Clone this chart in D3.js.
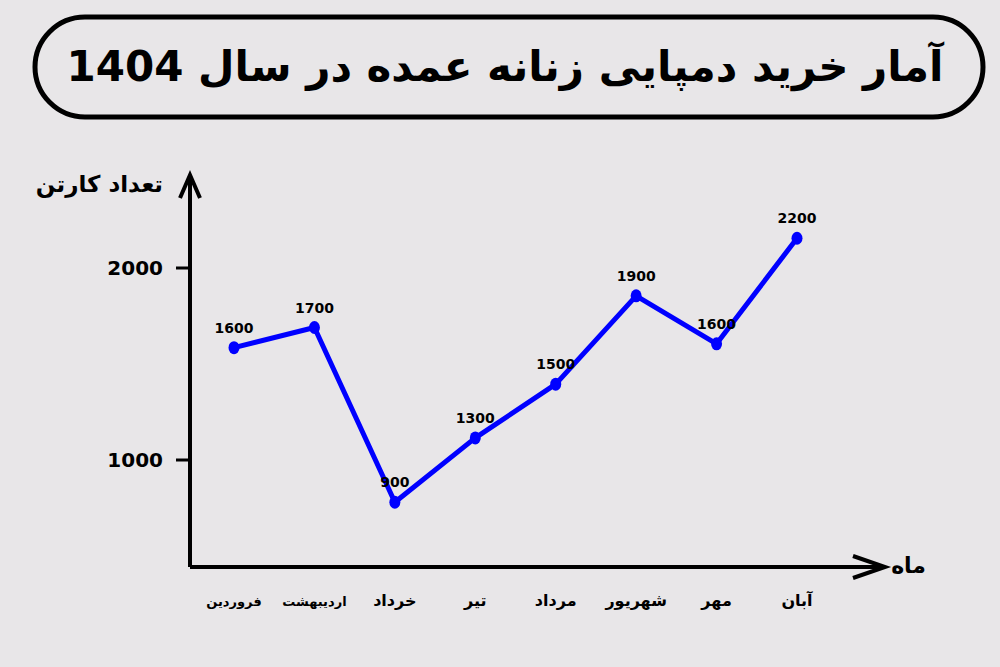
<!DOCTYPE html><html><head><meta charset="utf-8">
<script src="https://cdn.jsdelivr.net/npm/d3@7"></script>
<style>body{margin:0;background:#e8e6e8}text{font-family:"DejaVu Sans",sans-serif;font-weight:bold}</style></head><body>
<svg id="c" width="1000" height="667"></svg>
<script>
const months=["فروردین","اردیبهشت","خرداد","تیر","مرداد","شهریور","مهر","آبان"];
const labels=[1600,1700,900,1300,1500,1900,1600,2200];
const plotted=[1585,1690,780,1115,1395,1855,1605,2155];
const yTicks=[1000,2000];
const title="آمار خرید دمپایی زنانه عمده در سال 1404";
const svg=d3.select("#c");
svg.append("rect").attr("width",1000).attr("height",667).attr("fill","#e8e6e8");
svg.append("rect").attr("x",35).attr("y",17).attr("width",948).attr("height",100).attr("rx",50)
 .attr("fill","none").attr("stroke","#000").attr("stroke-width",5);
svg.append("text").attr("x",505).attr("y",81).attr("text-anchor","middle").attr("font-size",42).text(title);
const x=d3.scalePoint().domain(months).range([234,797]);
const y=d3.scaleLinear().domain([1000,2000]).range([460,268]);
const x0=190,yb=567;
svg.append("line").attr("x1",x0).attr("x2",x0).attr("y1",yb).attr("y2",175).attr("stroke","#000").attr("stroke-width",4);
svg.append("line").attr("x1",x0).attr("x2",885).attr("y1",yb).attr("y2",yb).attr("stroke","#000").attr("stroke-width",4);
svg.append("path").attr("d","M180,198L190,175L200,198").attr("fill","none").attr("stroke","#000").attr("stroke-width",4);
svg.append("path").attr("d","M853,556L885,567L853,578").attr("fill","none").attr("stroke","#000").attr("stroke-width",4);
yTicks.forEach(t=>{
 svg.append("line").attr("x1",176).attr("x2",x0).attr("y1",y(t)).attr("y2",y(t)).attr("stroke","#000").attr("stroke-width",3);
 svg.append("text").attr("x",163).attr("y",y(t)+7).attr("text-anchor","end").attr("font-size",20).text(t);
});
svg.append("text").attr("x",163).attr("y",192).attr("text-anchor","end").attr("font-size",23).text("تعداد کارتن");
svg.append("text").attr("x",926).attr("y",573).attr("text-anchor","end").attr("font-size",22).text("ماه");
svg.selectAll(".m").data(months).join("text").attr("x",d=>x(d)).attr("y",606).attr("text-anchor","middle")
 .attr("font-size",(d,i)=>i<2?13:16).text(d=>d);
const data=months.map((m,i)=>({m,v:plotted[i],l:labels[i]}));
svg.append("path").datum(data).attr("d",d3.line().x(d=>x(d.m)).y(d=>y(d.v))).attr("fill","none").attr("stroke","#0000ff").attr("stroke-width",5).attr("stroke-linejoin","round");
svg.selectAll(".p").data(data).join("ellipse").attr("cx",d=>x(d.m)).attr("cy",d=>y(d.v)).attr("rx",5.5).attr("ry",6.5).attr("fill","#0000ff");
svg.selectAll(".l").data(data).join("text").attr("x",d=>x(d.m)).attr("y",d=>y(d.v)-15).attr("text-anchor","middle").attr("font-size",14).text(d=>d.l);
</script></body></html>
